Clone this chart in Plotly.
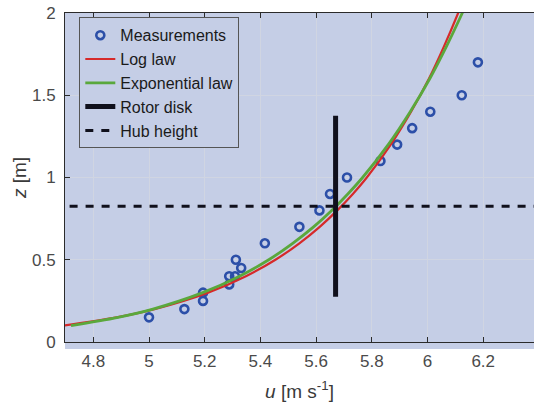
import plotly.graph_objects as go

# Measurements
meas_u = [5.000, 5.127, 5.194, 5.194, 5.288, 5.288, 5.309, 5.331, 5.312, 5.416,
          5.540, 5.612, 5.650, 5.711, 5.831, 5.891, 5.945, 6.010, 6.123, 6.181]
meas_z = [0.15, 0.20, 0.25, 0.30, 0.35, 0.40, 0.40, 0.45, 0.50, 0.60,
          0.70, 0.80, 0.90, 1.00, 1.10, 1.20, 1.30, 1.40, 1.50, 1.70]

# Fitted profiles
prof_z = [0.10, 0.15, 0.20, 0.30, 0.40, 0.50, 0.60, 0.70, 0.80, 0.90,
          1.00, 1.20, 1.40, 1.60, 1.80, 2.00, 2.10]
log_u = [4.692, 4.884, 5.020, 5.212, 5.348, 5.454, 5.540, 5.613, 5.676, 5.732,
         5.782, 5.868, 5.941, 6.005, 6.060, 6.110, 6.133]
exp_u = [4.720, 4.889, 5.014, 5.193, 5.325, 5.430, 5.516, 5.591, 5.656, 5.714,
         5.767, 5.859, 5.938, 6.008, 6.069, 6.125, 6.152]

# Rotor disk and hub height
rotor_u = [5.67, 5.67]
rotor_z = [0.275, 1.375]
hub_u = [4.6, 6.5]
hub_z = [0.825, 0.825]

x_ticks = [4.8, 5.0, 5.2, 5.4, 5.6, 5.8, 6.0, 6.2]
x_labels = ["4.8", "5", "5.2", "5.4", "5.6", "5.8", "6", "6.2"]
y_ticks = [0, 0.5, 1.0, 1.5, 2.0]
y_labels = ["0", "0.5", "1", "1.5", "2"]

BG = "#c5cee6"
GRID = "#d0d5e2"
AX = "#2b2b2b"
TXT = "#4a4a4a"
FONT = "Liberation Sans, Arial, sans-serif"

fig = go.Figure()
fig.add_trace(go.Scatter(x=meas_u, y=meas_z, mode="markers", name="Measurements",
                         marker=dict(symbol="circle-open", size=8, color="#2c4fa8",
                                     line=dict(width=2.6, color="#2c4fa8"))))
fig.add_trace(go.Scatter(x=log_u, y=prof_z, mode="lines", name="Log law",
                         line=dict(color="#d62a2a", width=2.2, shape="spline")))
fig.add_trace(go.Scatter(x=exp_u, y=prof_z, mode="lines", name="Exponential law",
                         line=dict(color="#5aa83c", width=2.8, shape="spline")))
fig.add_trace(go.Scatter(x=rotor_u, y=rotor_z, mode="lines", name="Rotor disk",
                         line=dict(color="#10101c", width=5)))
fig.add_trace(go.Scatter(x=hub_u, y=hub_z, mode="lines", name="Hub height",
                         line=dict(color="#10101c", width=3, dash="8px,8px")))

fig.add_shape(type="rect", xref="paper", yref="paper", x0=0, x1=1, y0=-7/329, y1=0,
              fillcolor=BG, line=dict(width=0), layer="below")

fig.update_layout(
    width=534, height=411,
    margin=dict(l=65, r=0, t=13, b=69),
    paper_bgcolor="white", plot_bgcolor=BG,
    font=dict(family=FONT, size=17, color=TXT),
    showlegend=True,
    legend=dict(x=0.0305, y=0.987, xanchor="left", yanchor="top",
                bgcolor=BG, bordercolor="#555555", borderwidth=1,
                font=dict(family=FONT, size=16, color="#1a1a1a"),
                tracegroupgap=0),
    xaxis=dict(range=[4.6984, 6.3824], tickvals=x_ticks, ticktext=x_labels,
               showgrid=True, gridcolor=GRID, gridwidth=1, zeroline=False,
               showline=True, linecolor=AX, linewidth=1, mirror="ticks",
               ticks="inside", ticklen=5, tickcolor=AX,
               ticklabelstandoff=4,
               tickfont=dict(family=FONT, size=17, color=TXT),
               title=dict(text="<i>u</i> [m s<sup>-1</sup>]", standoff=14,
                          font=dict(family=FONT, size=19, color="#3a3a3a"))),
    yaxis=dict(range=[0, 2], tickvals=y_ticks, ticktext=y_labels,
               showgrid=True, gridcolor=GRID, gridwidth=1, zeroline=False,
               showline=True, linecolor=AX, linewidth=1, mirror=False,
               ticks="inside", ticklen=5, tickcolor=AX,
               ticklabelstandoff=5,
               tickfont=dict(family=FONT, size=17, color=TXT),
               title=dict(text="<i>z</i> [m]", standoff=0,
                          font=dict(family=FONT, size=19, color="#3a3a3a"))),
)

fig.write_html("out.html")
